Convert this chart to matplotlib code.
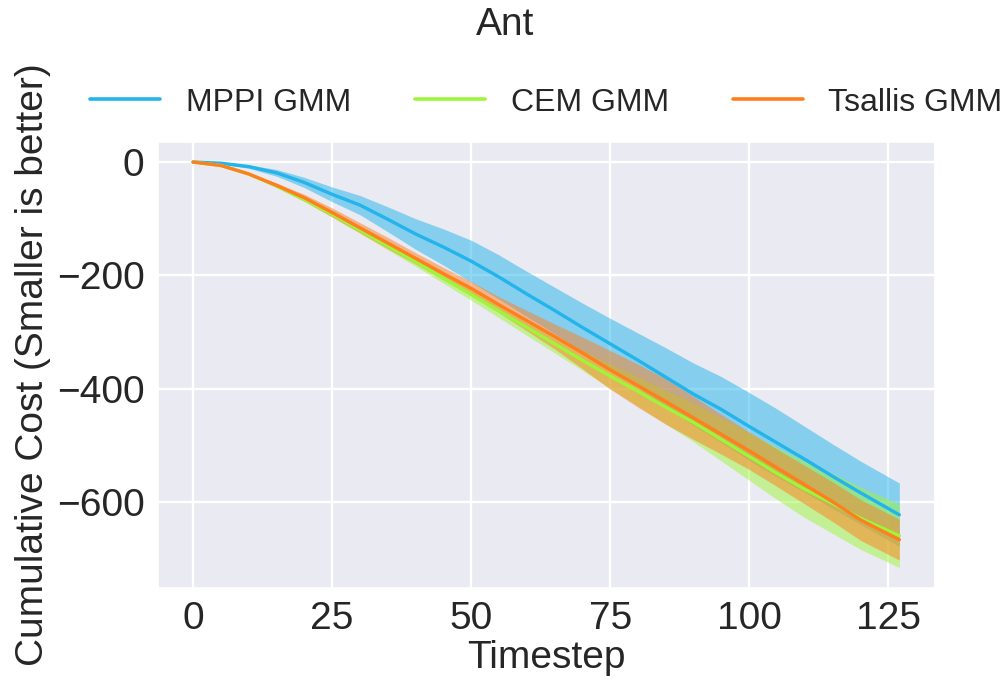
import numpy as np
import matplotlib
matplotlib.use('Agg')
import matplotlib.pyplot as plt
import seaborn as sns

# values
timestep = [0, 5, 10, 15, 20, 25, 30, 35, 40, 45, 50, 55, 60, 65, 70, 75, 80, 85, 90, 95, 100, 105, 110, 115, 120, 127]

mppi_mean = [0, -2, -8, -19, -36, -57, -76, -101, -127, -150, -175, -203, -233, -262, -292, -321, -350, -380, -410, -437, -467, -496, -525, -555, -584, -623]
mppi_std = [0, 1, 3, 6, 9, 13, 17, 22, 27, 32, 37, 39, 40, 41, 43, 45, 48, 52, 55, 58, 60, 60, 58, 57, 56, 56]

cem_mean = [0, -6, -21, -42, -66, -92, -120, -148, -176, -205, -234, -263, -292, -321, -350, -378, -405, -433, -460, -490, -520, -550, -578, -603, -629, -660]
cem_std = [0, 1, 2, 3, 4, 5, 6, 7, 8, 9, 10, 12, 14, 16, 18, 22, 26, 30, 34, 38, 42, 46, 50, 53, 55, 56]

tsallis_mean = [0, -6, -21, -41, -63, -89, -116, -143, -170, -197, -223, -252, -280, -308, -337, -367, -395, -423, -452, -481, -510, -540, -570, -600, -632, -667]
tsallis_std = [0, 1, 2, 4, 6, 8, 9, 10, 10, 11, 12, 14, 18, 22, 28, 34, 38, 40, 38, 35, 33, 33, 34, 35, 36, 36]

labels = ['MPPI GMM', 'CEM GMM', 'Tsallis GMM']
colors = ['#22b4ea', '#9ef53a', '#ff7f1e']

sns.set_theme(style='darkgrid', rc={'grid.linewidth': 1.7})
plt.rcParams['font.family'] = ['Liberation Sans', 'DejaVu Sans']

fig, ax = plt.subplots(figsize=(10.05, 6.85), dpi=100)
fig.subplots_adjust(left=0.157, right=0.930, top=0.793, bottom=0.142)

t = np.array(timestep)
series = [(mppi_mean, mppi_std), (cem_mean, cem_std), (tsallis_mean, tsallis_std)]
for (m, s), lab, c in zip(series, labels, colors):
    m = np.array(m)
    s = np.array(s)
    ax.plot(t, m, color=c, lw=2.4, label=lab)
    ax.fill_between(t, m - s, m + s, color=c, alpha=0.5, lw=0)

ax.set_xticks([0, 25, 50, 75, 100, 125])
ax.set_yticks([0, -200, -400, -600])
ax.tick_params(labelsize=28)
ax.set_xlabel('Timestep', fontsize=28, labelpad=2)
ax.set_ylabel('Cumulative Cost (Smaller is better)', fontsize=28)

leg = ax.legend(loc='center', bbox_to_anchor=(0.5, 1.088), ncol=3, frameon=False,
                fontsize=23, handlelength=2.2)
for line in leg.get_lines():
    line.set_linewidth(2.6)

fig.text(0.503, 0.964, 'Ant', ha='center', va='center', fontsize=28)

fig.savefig('out.png', dpi=100)
